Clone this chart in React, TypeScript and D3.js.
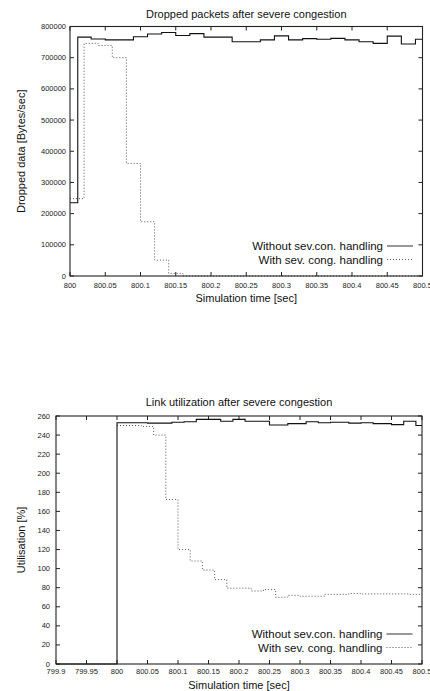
import React from 'react';
import * as d3 from 'd3';

// ---------- Data: top chart (dropped data) ----------
const topTicksX = [800, 800.05, 800.1, 800.15, 800.2, 800.25, 800.3, 800.35, 800.4, 800.45, 800.5];
const topTickLabelsX = ['800', '800.05', '800.1', '800.15', '800.2', '800.25', '800.3', '800.35', '800.4', '800.45', '800.5'];
const topTicksY = [0, 100000, 200000, 300000, 400000, 500000, 600000, 700000, 800000];
const topTickLabelsY = ['0', '100000', '200000', '300000', '400000', '500000', '600000', '700000', '800000'];

const topWithoutT = [800, 800.011, 800.03, 800.05, 800.09, 800.11, 800.13, 800.15, 800.17, 800.19, 800.23, 800.27, 800.29, 800.31, 800.33, 800.35, 800.37, 800.39, 800.41, 800.43, 800.45, 800.47, 800.49];
const topWithoutV = [235000, 766000, 760000, 757000, 767000, 776000, 781000, 771000, 777000, 766000, 751000, 757000, 770000, 757000, 761000, 759000, 762000, 757000, 751000, 746000, 769000, 744000, 759000];
const topWithT = [800, 800.02, 800.04, 800.06, 800.08, 800.1, 800.12, 800.14, 800.16];
const topWithV = [248000, 746000, 739000, 700000, 361000, 174000, 51000, 8500, 0];

// ---------- Data: bottom chart (link utilisation) ----------
const botTicksX = [799.9, 799.95, 800, 800.05, 800.1, 800.15, 800.2, 800.25, 800.3, 800.35, 800.4, 800.45, 800.5];
const botTickLabelsX = ['799.9', '799.95', '800', '800.05', '800.1', '800.15', '800.2', '800.25', '800.3', '800.35', '800.4', '800.45', '800.5'];
const botTicksY = [0, 20, 40, 60, 80, 100, 120, 140, 160, 180, 200, 220, 240, 260];
const botTickLabelsY = ['0', '20', '40', '60', '80', '100', '120', '140', '160', '180', '200', '220', '240', '260'];

const botWithoutT = [799.9, 800, 800.05, 800.09, 800.11, 800.13, 800.17, 800.19, 800.21, 800.25, 800.28, 800.31, 800.33, 800.35, 800.38, 800.4, 800.42, 800.45, 800.47, 800.49];
const botWithoutV = [0, 253, 252.5, 253.5, 254, 256.5, 254.5, 256.5, 254.5, 250.5, 252, 254, 253, 253.5, 252.5, 253, 252, 251, 254.5, 250];
const botWithT = [800, 800.04, 800.06, 800.08, 800.1, 800.12, 800.14, 800.16, 800.18, 800.22, 800.24, 800.26, 800.28, 800.3, 800.34, 800.38, 800.4, 800.48];
const botWithV = [250, 249, 240, 172.5, 120, 108, 98.5, 88.5, 79.5, 76.5, 78, 70, 72, 71, 73, 74, 73.5, 73];

const legendLabels = ['Without sev.con. handling', 'With sev. cong. handling'];

const FONT = '"Liberation Sans", Arial, Helvetica, sans-serif';

type PanelProps = {
  left: number; right: number; top: number; bottom: number;
  xDomain: [number, number]; yDomain: [number, number];
  ticksX: number[]; labelsX: string[]; ticksY: number[]; labelsY: string[];
  solidT: number[]; solidV: number[]; dotT: number[]; dotV: number[];
  title: string; xLabel: string; yLabel: string;
  yLabelRight: number; titleY: number; xTickY: number; xLabelY: number;
};

function stepPath(t: number[], v: number[], end: number, x: d3.ScaleLinear<number, number>, y: d3.ScaleLinear<number, number>) {
  const pts: [number, number][] = t.map((tt, i) => [tt, v[i]]);
  pts.push([end, v[v.length - 1]]);
  const line = d3.line<[number, number]>()
    .x(d => x(d[0]))
    .y(d => y(d[1]))
    .curve(d3.curveStepAfter);
  return line(pts) || '';
}

function Panel(p: PanelProps) {
  const x = d3.scaleLinear().domain(p.xDomain).range([p.left, p.right]);
  const y = d3.scaleLinear().domain(p.yDomain).range([p.bottom, p.top]);
  const tl = 4;
  const cx = (p.left + p.right) / 2;
  const cy = (p.top + p.bottom) / 2;
  const legX = p.right - 39.5;
  const legY0 = p.bottom - 30;
  return (
    <g>
      <text x={cx} y={p.titleY} textAnchor="middle" fontSize={11} fontFamily={FONT} fill="#111">{p.title}</text>
      {/* ticks */}
      {p.ticksX.map((t, i) => (
        <g key={'tx' + i}>
          <line x1={x(t)} x2={x(t)} y1={p.bottom} y2={p.bottom - tl} stroke="#222" strokeWidth={1} />
          <line x1={x(t)} x2={x(t)} y1={p.top} y2={p.top + tl} stroke="#222" strokeWidth={1} />
          <text x={x(t)} y={p.xTickY} textAnchor="middle" fontSize={7.5} fontFamily={FONT} fill="#222">{p.labelsX[i]}</text>
        </g>
      ))}
      {p.ticksY.map((t, i) => (
        <g key={'ty' + i}>
          <line x1={p.left} x2={p.left + tl} y1={y(t)} y2={y(t)} stroke="#222" strokeWidth={1} />
          <line x1={p.right} x2={p.right - tl} y1={y(t)} y2={y(t)} stroke="#222" strokeWidth={1} />
          <text x={p.yLabelRight} y={y(t) + 2.5} textAnchor="end" fontSize={7.5} fontFamily={FONT} fill="#222">{p.labelsY[i]}</text>
        </g>
      ))}
      {/* data */}
      <path d={stepPath(p.dotT, p.dotV, p.xDomain[1], x, y)} fill="none" stroke="#555" strokeWidth={1} strokeDasharray="1,2" />
      <path d={stepPath(p.solidT, p.solidV, p.xDomain[1], x, y)} fill="none" stroke="#111" strokeWidth={1.1} />
      {/* frame */}
      <rect x={p.left} y={p.top} width={p.right - p.left} height={p.bottom - p.top} fill="none" stroke="#222" strokeWidth={1.1} />
      {/* legend */}
      <text x={legX} y={legY0 + 4} textAnchor="end" fontSize={11.5} fontFamily={FONT} fill="#111">{legendLabels[0]}</text>
      <line x1={legX + 4} x2={legX + 30} y1={legY0} y2={legY0} stroke="#444" strokeWidth={1.1} />
      <text x={legX} y={legY0 + 17.5} textAnchor="end" fontSize={11.5} fontFamily={FONT} fill="#111">{legendLabels[1]}</text>
      <line x1={legX + 4} x2={legX + 30} y1={legY0 + 13.5} y2={legY0 + 13.5} stroke="#555" strokeWidth={1} strokeDasharray="1,2" />
      {/* axis labels */}
      <text x={cx} y={p.xLabelY} textAnchor="middle" fontSize={11} fontFamily={FONT} fill="#111">{p.xLabel}</text>
      <text transform={`translate(25,${cy}) rotate(-90)`} textAnchor="middle" fontSize={11} fontFamily={FONT} fill="#111">{p.yLabel}</text>
    </g>
  );
}

export default function App() {
  return (
    <svg width={430} height={691} style={{ position: 'absolute', left: 0, top: 0, background: '#fff' }}>
      <rect x={0} y={0} width={430} height={691} fill="#fff" />
      <Panel
        left={70} right={422.5} top={26.5} bottom={276}
        xDomain={[800, 800.5]} yDomain={[0, 800000]}
        ticksX={topTicksX} labelsX={topTickLabelsX} ticksY={topTicksY} labelsY={topTickLabelsY}
        solidT={topWithoutT} solidV={topWithoutV} dotT={topWithT} dotV={topWithV}
        title="Dropped packets after severe congestion"
        xLabel="Simulation time [sec]" yLabel="Dropped data [Bytes/sec]"
        yLabelRight={66} titleY={18} xTickY={288} xLabelY={302}
      />
      <Panel
        left={56} right={422} top={416} bottom={664}
        xDomain={[799.9, 800.5]} yDomain={[0, 260]}
        ticksX={botTicksX} labelsX={botTickLabelsX} ticksY={botTicksY} labelsY={botTickLabelsY}
        solidT={botWithoutT} solidV={botWithoutV} dotT={botWithT} dotV={botWithV}
        title="Link utilization after severe congestion"
        xLabel="Simulation time [sec]" yLabel="Utilisation [%]"
        yLabelRight={50} titleY={406} xTickY={674} xLabelY={689}
      />
    </svg>
  );
}
